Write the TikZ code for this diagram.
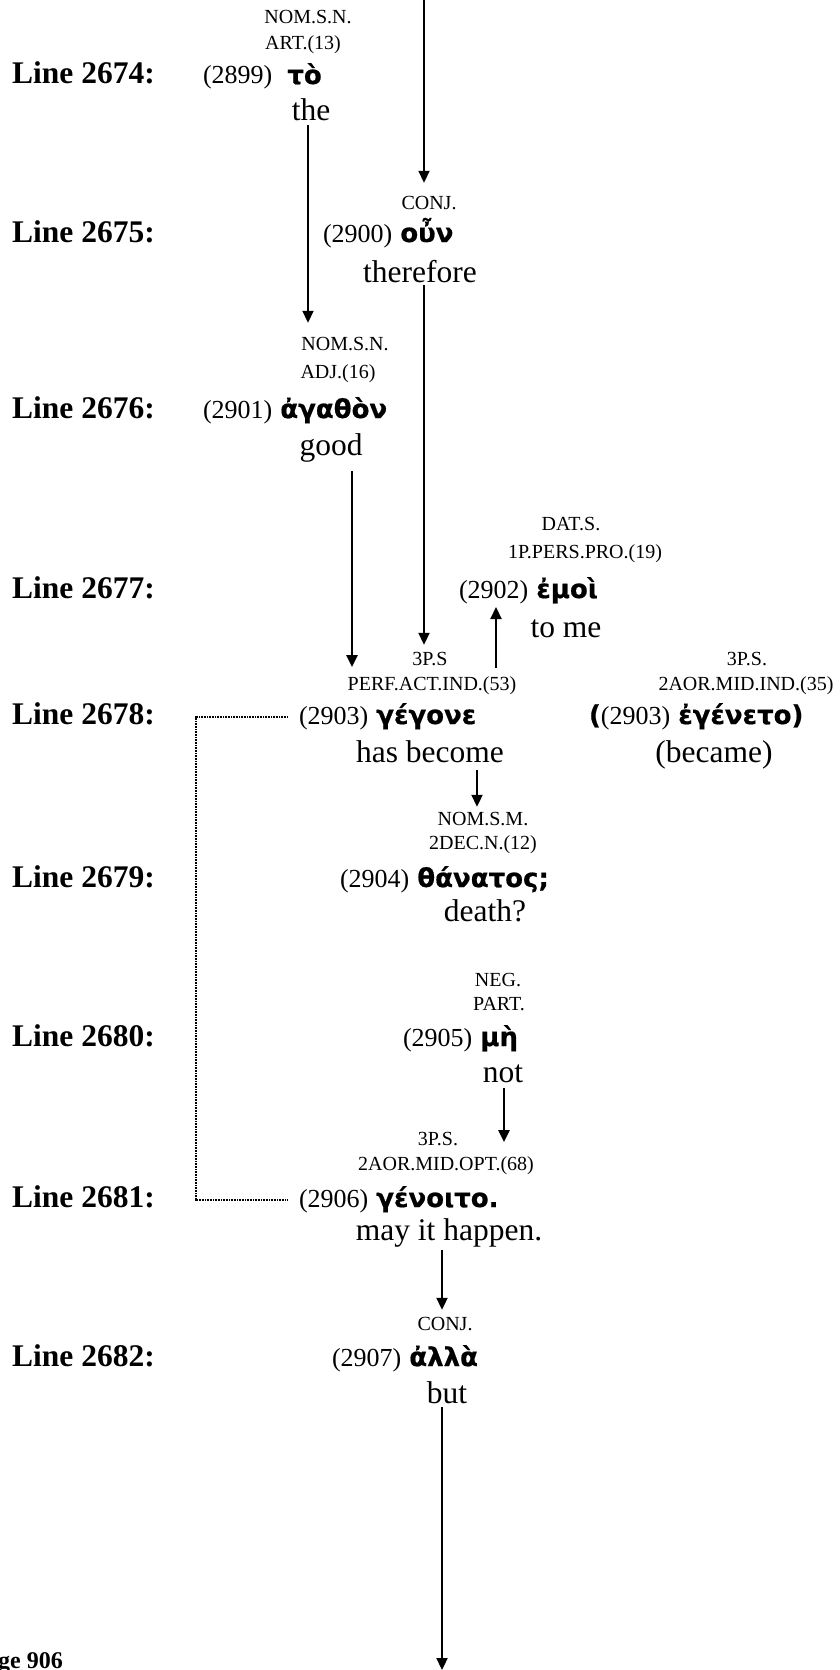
\documentclass[tikz,border=0pt]{standalone}
\usepackage{fontspec}
\setmainfont{Liberation Serif}
\newfontfamily\grkfont{DejaVu Sans}[BoldFeatures={FakeBold=0.6}]
\usetikzlibrary{arrows.meta,calc}

% Greek headword and its running number
\newcommand{\gw}[1]{{\grkfont\bfseries\fontsize{26}{28}\selectfont #1}}
\newcommand{\wn}[1]{{\fontsize{26}{28}\selectfont #1}}

\tikzset{
  tag/.style={font=\fontsize{20}{22}\selectfont, inner sep=0pt, outer sep=0pt, anchor=base},
  gloss/.style={font=\fontsize{31.5}{34}\selectfont, inner sep=0pt, outer sep=0pt, anchor=base},
  word/.style={inner sep=0pt, outer sep=0pt, anchor=base west, text height=20pt, text depth=6pt},
  linelab/.style={font=\bfseries\fontsize{31.5}{34}\selectfont, inner sep=0pt, anchor=base west},
  arr/.style={line width=2.2pt, -{Triangle[length=12pt,width=11pt]}},
  bracket/.style={line width=1.1pt, dash pattern=on 1pt off 0.6pt},
}

\begin{document}
\begin{tikzpicture}[x=1pt,y=-1pt]
\fill[white] (0,0) rectangle (840,1670);
\useasboundingbox (0,0) rectangle (840,1670);

% line labels
\node[linelab] (l1) at (12,84)   {Line 2674:};
\node[linelab] (l2) at (12,242)  {Line 2675:};
\node[linelab] (l3) at (12,418)  {Line 2676:};
\node[linelab] (l4) at (12,598)  {Line 2677:};
\node[linelab] (l5) at (12,724)  {Line 2678:};
\node[linelab] (l6) at (12,887)  {Line 2679:};
\node[linelab] (l7) at (12,1046) {Line 2680:};
\node[linelab] (l8) at (12,1207) {Line 2681:};
\node[linelab] (l9) at (12,1366) {Line 2682:};

% 2899
\node[tag] (t1a) at (308,24) {NOM.S.N.};
\node[tag] (t1b) at (303,49) {ART.(13)};
\node[word] (m1) at (203,84) {\wn{(2899)}\hspace{15pt}\gw{τὸ}};
\node[gloss] (g1) at (311,120) {the};

% 2900
\node[tag] (t2) at (429,209) {CONJ.};
\node[word] (m2) at (323,242) {\wn{(2900)}\hspace{8pt}\gw{οὖν}};
\node[gloss] (g2) at (420,282) {therefore};

% 2901
\node[tag] (t3a) at (345,350) {NOM.S.N.};
\node[tag] (t3b) at (338,378) {ADJ.(16)};
\node[word] (m3) at (203,418) {\wn{(2901)}\hspace{8pt}\gw{ἀγαθὸν}};
\node[gloss] (g3) at (331,455) {good};

% 2902
\node[tag] (t4a) at (571,530) {DAT.S.};
\node[tag] (t4b) at (585,558) {1P.PERS.PRO.(19)};
\node[word] (m4) at (459,598) {\wn{(2902)}\hspace{8pt}\gw{ἐμοὶ}};
\node[gloss] (g4) at (566,637) {to me};

% 2903
\node[tag] (t5a) at (430,665) {3P.S};
\node[tag] (t5b) at (432,690) {PERF.ACT.IND.(53)};
\node[word] (m5) at (299,724) {\wn{(2903)}\hspace{8pt}\gw{γέγονε}};
\node[gloss] (g5) at (430,762) {has become};

% 2903 (variant reading)
\node[tag] (t6a) at (747,665) {3P.S.};
\node[tag] (t6b) at (746,690) {2AOR.MID.IND.(35)};
\node[word] (m6) at (589,724) {\gw{(}\wn{(2903)}\hspace{8pt}\gw{ἐγένετο)}};
\node[gloss] (g6) at (714,762) {(became)};

% 2904
\node[tag] (t7a) at (483,825) {NOM.S.M.};
\node[tag] (t7b) at (483,849) {2DEC.N.(12)};
\node[word] (m7) at (340,887) {\wn{(2904)}\hspace{8pt}\gw{θάνατος;}};
\node[gloss] (g7) at (485,921) {death?};

% 2905
\node[tag] (t8a) at (498,986) {NEG.};
\node[tag] (t8b) at (499,1010) {PART.};
\node[word] (m8) at (403,1046) {\wn{(2905)}\hspace{8pt}\gw{μὴ}};
\node[gloss] (g8) at (503,1082) {not};

% 2906
\node[tag] (t9a) at (438,1145) {3P.S.};
\node[tag] (t9b) at (446,1170) {2AOR.MID.OPT.(68)};
\node[word] (m9) at (299,1207) {\wn{(2906)}\hspace{8pt}\gw{γένοιτο.}};
\node[gloss] (g9) at (449,1240) {may it happen.};

% 2907
\node[tag] (t10) at (445,1330) {CONJ.};
\node[word] (m10) at (332,1366) {\wn{(2907)}\hspace{8pt}\gw{ἀλλὰ}};
\node[gloss] (g10) at (447,1403) {but};

% page number, cut by the left edge
\node[font=\bfseries\fontsize{24}{26}\selectfont, inner sep=0pt, anchor=base east] (pg) at (63,1668) {Page 906};

% free ends of the through arrows
\coordinate (topin) at (424,0);
\coordinate (botout) at (442,1670);

% connectors
\draw[arr] (topin) -- ($(topin |- t2.north)+(0,-13)$);
\draw[arr] ($(g1.south)+(-3,5)$) -- ($(g1.south |- t3a.north)+(-3,-14)$);
\draw[arr] ($(g2.south)+(4,3)$) -- ($(g2.south |- t5a.north)+(4,-7)$);
\draw[arr] ($(g3.south)+(21,9)$) -- ($(g3.south |- t5b.north)+(21,-9)$);
\draw[arr] ($(t5b.north)+(64,-8)$) -- ($(t5b.north |- m4.south)+(64,3)$);
\draw[arr] ($(g5.south)+(47,8)$) -- ($(g5.south |- t7a.north)+(47,-5)$);
\draw[arr] ($(g8.south)+(1,6)$) -- ($(g8.south |- t9b.north)+(1,-14)$);
\draw[arr] ($(g9.south)+(-7,3)$) -- ($(g9.south |- t10.north)+(-7,-7)$);
\draw[arr] ($(g10.south)+(-5,4)$) -- (botout);

% bracket joining the two forms of the same verb
\draw[bracket] ($(m5.west)+(-11,0)$) -- ++(-92,0) |- ($(m9.west)+(-11,0)$);
\end{tikzpicture}
\end{document}
